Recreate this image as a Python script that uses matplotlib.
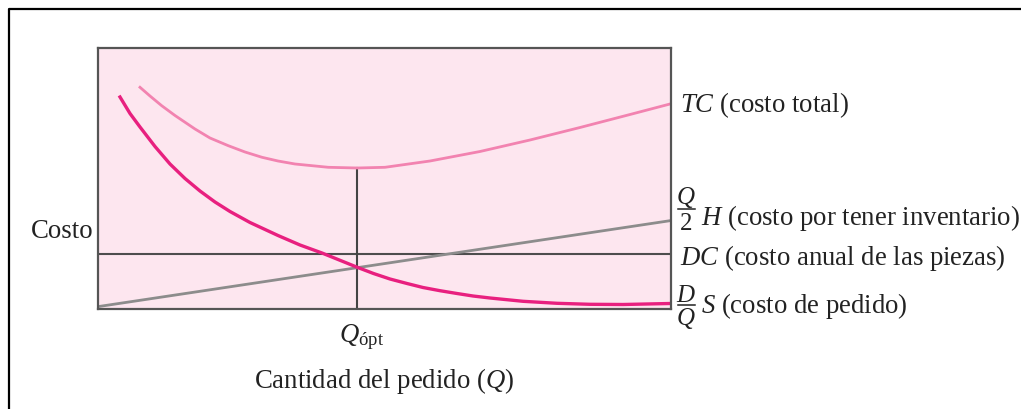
import matplotlib
matplotlib.use("Agg")
import matplotlib.pyplot as plt
from matplotlib.lines import Line2D

plt.rcParams['font.family'] = ['Liberation Serif', 'DejaVu Serif']
plt.rcParams['mathtext.fontset'] = 'custom'
plt.rcParams['mathtext.rm'] = 'Liberation Serif'
plt.rcParams['mathtext.it'] = 'Liberation Serif:italic'

# data (order quantity vs cost, arbitrary units)
order_q = [22.5, 32.5, 42.5, 57.5, 72.5, 87.5, 102.5, 117.5, 132.5, 152.5,
           180.5, 202.5, 224.5, 259.8, 276, 292.5, 309.5, 325.5, 342.5, 359.5,
           375.5, 392.5, 425.5, 459.5, 492.5, 525.5, 572.5]
order_cost = [212, 195.5, 182, 162.5, 145, 130.5, 118, 107, 97.5, 86.5,
              73.5, 64, 56, 41.7, 35.5, 30, 25.5, 21.5, 18.3, 15.5,
              13, 11, 7.7, 5.7, 4.7, 4.5, 5.5]

total_q = [42.5, 52.5, 64.2, 77.5, 97.5, 112.5, 130.8, 147.5, 164.5, 180.5,
           197.5, 230.8, 259.8, 287.5, 332.5, 382.5, 432.5, 482.5, 532.5, 572.5]
total_cost = [221.7, 213, 203.3, 193.5, 180, 171, 163.3, 157, 151.7, 148,
              145, 141.7, 141, 141.7, 148, 157.5, 169, 181.5, 194.5, 205]

holding_q = [0, 572.5]
holding_cost = [2.3, 88.3]

annual_cost = 55
q_opt = 259.8
tc_min = 141

W, H = 1021, 410
fig = plt.figure(figsize=(W / 100, H / 100), dpi=100)
fig.patch.set_facecolor('white')

ax = fig.add_axes([97.5 / W, 1 - 310 / H, 573.5 / W, 261.5 / H])
ax.set_facecolor('#fde6ef')
ax.set_xlim(0, 573.5)
ax.set_ylim(0, 261.5)
ax.set_xticks([])
ax.set_yticks([])
for s in ax.spines.values():
    s.set_color('#555555')
    s.set_linewidth(1.6)

ax.axhline(annual_cost, color='#4d4d4d', lw=1.5)
ax.plot([q_opt, q_opt], [0, tc_min], color='#444444', lw=1.5)
ax.plot(holding_q, holding_cost, color='#8c8c8c', lw=2.0)
ax.plot(total_q, total_cost, color='#f283b0', lw=2.0, solid_joinstyle='round')
ax.plot(order_q, order_cost, color='#e8207f', lw=2.4, solid_joinstyle='round')


def px(x, y):
    return x / W, 1 - y / H


fs = 19.3
ink = '#222222'
fig.text(*px(680, 112), '$TC$ (costo total)', fontsize=fs, color=ink)

# Q/2 H
fig.text(*px(686, 204), '$Q$', fontsize=18, ha='center', color=ink)
fig.add_artist(Line2D([678 / W, 695 / W], [1 - 209.5 / H] * 2, color=ink, lw=1.1))
fig.text(*px(686, 230), '2', fontsize=18, ha='center', color=ink)
fig.text(*px(701, 225), '$H$ (costo por tener inventario)', fontsize=fs, color=ink)

fig.text(*px(680, 265), '$DC$ (costo anual de las piezas)', fontsize=fs, color=ink)

# D/Q S
fig.text(*px(686, 302), '$D$', fontsize=18, ha='center', color=ink)
fig.add_artist(Line2D([678 / W, 695 / W], [1 - 305.5 / H] * 2, color=ink, lw=1.1))
fig.text(*px(686, 325), '$Q$', fontsize=18, ha='center', color=ink)
fig.text(*px(701, 313), '$S$ (costo de pedido)', fontsize=fs, color=ink)

fig.text(*px(93, 238), 'Costo', fontsize=fs, ha='right', color=ink)
fig.text(*px(362, 342), r'$Q_{\mathrm{ópt}}$', fontsize=fs, ha='center', color=ink)
fig.text(*px(384, 388), 'Cantidad del pedido ($Q$)', fontsize=fs, ha='center', color=ink)

# outer frame
fig.add_artist(Line2D([9 / W, 9 / W, 1], [0, 1 - 10 / H, 1 - 10 / H], color='black', lw=1.6))

fig.savefig('out.png', dpi=100)
